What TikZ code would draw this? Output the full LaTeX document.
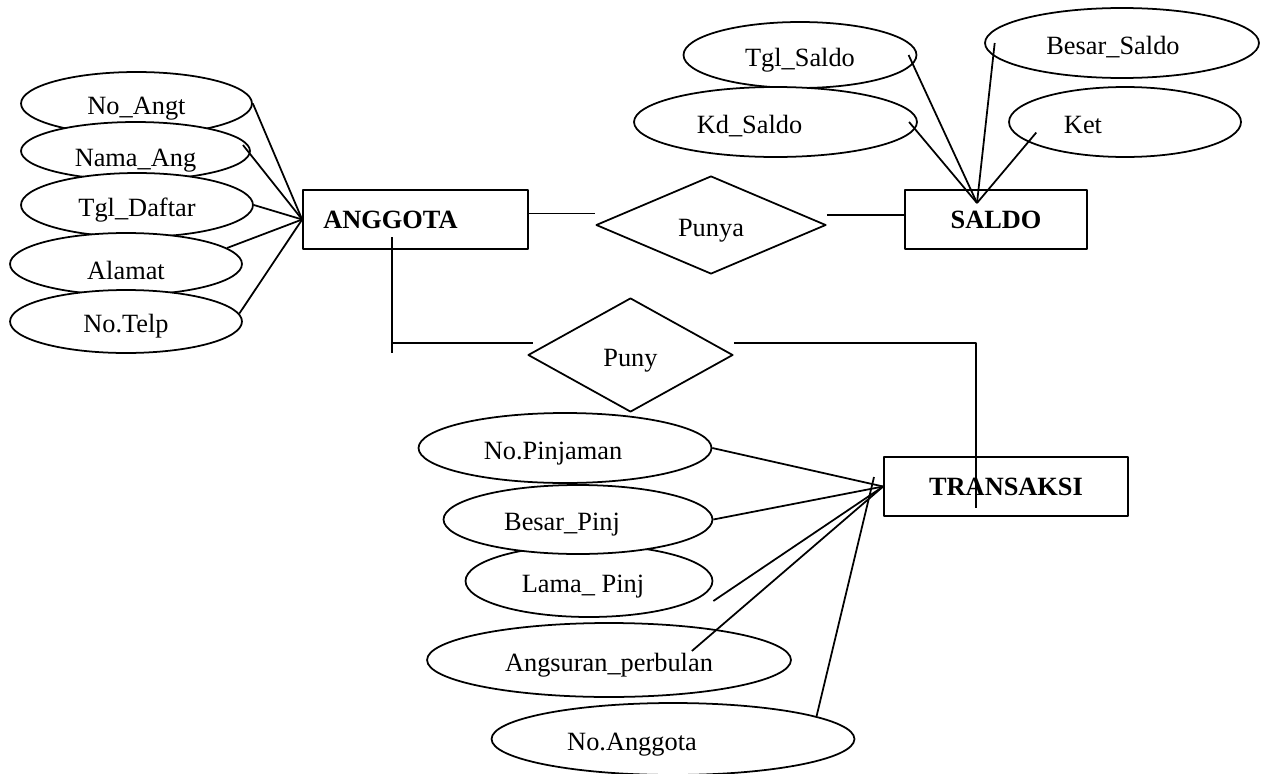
\documentclass[tikz,border=0pt]{standalone}
\usepackage{fontspec}
\setmainfont{Liberation Serif}
\usetikzlibrary{shapes.geometric}
\tikzset{
  attr/.style={draw,ellipse,fill=white,inner sep=0pt,text height=13pt,text depth=0pt,font=\fontsize{15}{18}\selectfont},
  entity/.style={draw,rectangle,inner sep=0pt,text height=10.5pt,text depth=0pt,font=\fontsize{15}{18}\selectfont\bfseries},
  rel/.style={draw,diamond,inner sep=0pt,text height=13pt,text depth=0pt,font=\fontsize{15}{18}\selectfont},
}
\begin{document}
\begin{tikzpicture}[x=0.02cm,y=-0.02cm,line width=1pt,line join=round]
  \useasboundingbox (0,0) rectangle (1261,774);
  \node[entity,minimum width=4.5cm,minimum height=1.18cm] (anggota) at (415.5,219.5) {ANGGOTA\kern1cm};
  \node[entity,minimum width=3.64cm,minimum height=1.18cm] (saldo) at (996,219.5) {SALDO};
  \node[entity,minimum width=4.88cm,minimum height=1.18cm] (transaksi) at (1006,486.5) {TRANSAKSI};
  \node[rel,minimum width=4.6cm,minimum height=1.96cm] (punya) at (711,225) {Punya};
  \node[rel,minimum width=4.1cm,minimum height=2.28cm] (puny) at (630.5,355) {Puny};
  \node[attr,minimum width=4.62cm,minimum height=1.26cm] (noangt) at (136.5,103.5) {No\_Angt};
  \node[attr,minimum width=4.58cm,minimum height=1.16cm,text height=18pt] (namaang) at (135.5,151) {Nama\_Ang};
  \node[attr,minimum width=4.64cm,minimum height=1.28cm] (tgldaftar) at (137,205) {Tgl\_Daftar};
  \node[attr,minimum width=4.64cm,minimum height=1.24cm,text height=18pt] (alamat) at (126,264) {Alamat};
  \node[attr,minimum width=4.64cm,minimum height=1.26cm] (notelp) at (126,321.5) {No.Telp};
  \node[attr,minimum width=4.66cm,minimum height=1.32cm] (tglsaldo) at (800,55) {Tgl\_Saldo};
  \node[attr,minimum width=5.66cm,minimum height=1.4cm] (kdsaldo) at (775.5,122) {Kd\_Saldo\kern1.04cm};
  \node[attr,minimum width=5.48cm,minimum height=1.4cm] (besarsaldo) at (1122,43) {Besar\_Saldo\kern0.36cm};
  \node[attr,minimum width=4.64cm,minimum height=1.4cm] (ket) at (1125,122) {Ket\kern1.68cm};
  \node[attr,minimum width=5.86cm,minimum height=1.4cm] (nopinjaman) at (565,448) {No.Pinjaman\kern0.48cm};
  \node[attr,minimum width=4.94cm,minimum height=1.44cm] (lamapinj) at (589,581) {Lama\_ Pinj\kern0.24cm};
  \node[attr,minimum width=5.38cm,minimum height=1.38cm] (besarpinj) at (578,519.5) {Besar\_Pinj\kern0.64cm};
  \node[attr,minimum width=7.28cm,minimum height=1.48cm] (angsuran) at (609,660) {Angsuran\_perbulan};
  \node[attr,minimum width=7.26cm,minimum height=1.44cm] (noanggota) at (673,739) {No.Anggota\kern1.64cm};
  \coordinate (pa) at (392,237);
  \coordinate (pb) at (392,343);
  \coordinate (tr) at (976,508);
  \coordinate (shub) at (977,203);
  \coordinate (ttop) at (874,477);
  \draw (anggota.3) -- (anggota.3 -| punya.west);
  \draw (saldo.177 -| punya.east) -- (saldo.177);
  \draw (pa) -- ++(0,116);
  \draw (pb) -- ++(141,0);
  \draw (puny.east |- pb) -| (tr);
  \draw (noangt.east) -- (anggota.west);
  \draw ([shift={(-4.5pt,3.4pt)}]namaang.east) -- (anggota.west);
  \draw (tgldaftar.east) -- (anggota.west);
  \draw (alamat.9) -- (anggota.west);
  \draw (notelp.4) -- (anggota.west);
  \draw ([xshift=-5pt]tglsaldo.east) -- (shub);
  \draw ([xshift=-5pt]kdsaldo.east) -- (shub);
  \draw ([xshift=6pt]besarsaldo.west) -- (shub);
  \draw ([shift={(16pt,-6pt)}]ket.west) -- (shub);
  \draw (nopinjaman.east) -- (transaksi.west);
  \draw (besarpinj.east) -- (transaksi.west);
  \draw ([yshift=-0.4cm]lamapinj.east) -- (transaksi.west);
  \draw ([shift={(-2cm,0.18cm)}]angsuran.east) -- (transaksi.west);
  \draw (noanggota.9) -- (ttop);
\end{tikzpicture}
\end{document}
